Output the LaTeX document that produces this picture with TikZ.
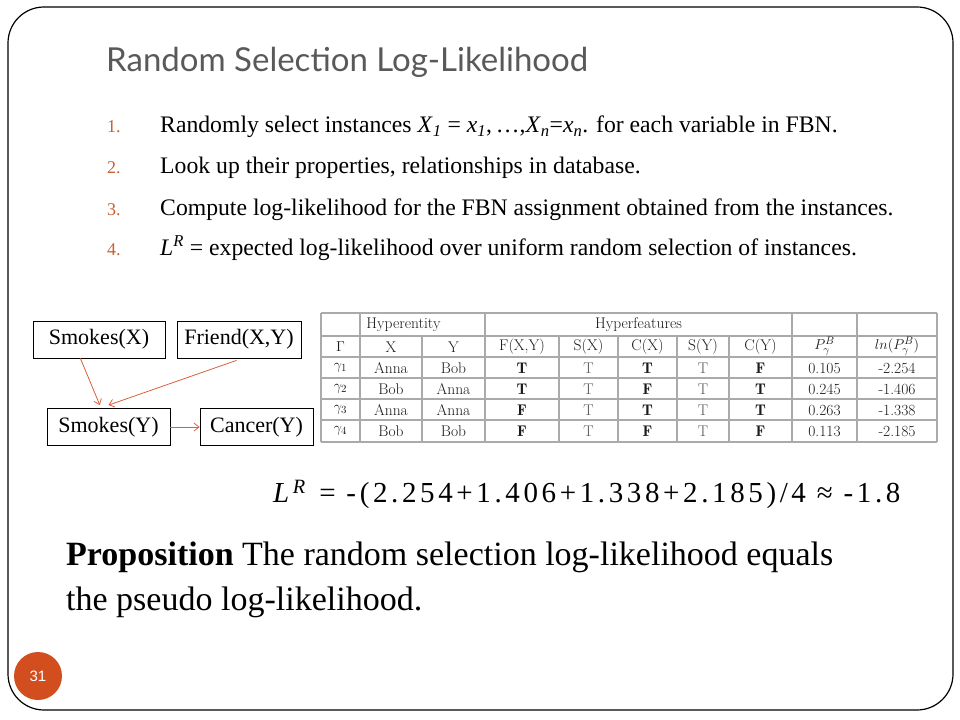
\documentclass[tikz,border=0pt]{standalone}
\usepackage{fontspec}
\setmainfont{Liberation Serif}
\newfontfamily\titlefont{Lato}
\newfontfamily\numfont{Liberation Sans}
\usetikzlibrary{arrows.meta,calc}
\definecolor{titlegray}{HTML}{595959}
\definecolor{numc}{HTML}{C8602F}
\definecolor{arrowc}{HTML}{D9603B}
\definecolor{circc}{HTML}{D24E1E}
\definecolor{tgray}{HTML}{AAAAAA}
\definecolor{ttext}{HTML}{1A1A1A}
\definecolor{tlight}{HTML}{5A5A5A}
\begin{document}
\begin{tikzpicture}[x=1bp,y=-1bp,
  box/.style={draw, line width=0.8bp, minimum height=37bp, inner sep=0pt, font=\fontsize{22bp}{26bp}\selectfont},
  arr/.style={draw=arrowc, line width=0.8bp, -{Straight Barb[length=5bp,width=8bp]}},
  itemnum/.style={anchor=base west, text=numc, font=\fontsize{18bp}{21bp}\selectfont, inner sep=0pt},
  itemtxt/.style={anchor=base west, font=\fontsize{23.7bp}{27bp}\selectfont, inner sep=0pt},
  tline/.style={draw=tgray, line width=1.1bp},
  tcell/.style={inner sep=0pt, text=ttext, font=\fontfamily{lmr}\fontsize{15.5bp}{17bp}\selectfont},
  tlt/.style={tcell, text=tlight},
  tbf/.style={tcell, font=\fontfamily{lmr}\bfseries\fontsize{15.5bp}{17bp}\selectfont}]
\useasboundingbox (0,0) rectangle (960,720);
% slide frame
\draw[line width=1.2bp, rounded corners=36bp] (8,7) rectangle (953,710);
% title
\node[anchor=west, inner sep=0pt, text=titlegray, font=\titlefont\fontsize{33bp}{38bp}\selectfont] (title) at (106,62) {Random Selection Log-Likelihood};
% list
\node[itemnum] (n1) at (107,133) {1.};
\node[itemnum] (n2) at (107,174) {2.};
\node[itemnum] (n3) at (107,215) {3.};
\node[itemnum] (n4) at (107,255) {4.};
\node[itemtxt] (t1) at (160,133) {Randomly select instances \textit{X}\textsubscript{\textit{1}} = \textit{x}\textsubscript{\textit{1}},\,\ldots,\textit{X}\textsubscript{\textit{n}}=\textit{x}\textsubscript{\textit{n}}. for each variable in FBN.};
\node[itemtxt] (t2) at (160,174) {Look up their properties, relationships in database.};
\node[itemtxt] (t3) at (160,215) {Compute log-likelihood for the FBN assignment obtained from the instances.};
\node[itemtxt] (t4) at (160,255) {\textit{L}\textsuperscript{\textit{R}} = expected log-likelihood over uniform random selection of instances.};
% graph
\node[box, minimum width=132bp] (sx) at (99,339.5) {Smokes(X)};
\node[box, minimum width=124bp] (fr) at (239,339.5) {Friend(X,Y)};
\node[box, minimum width=123bp] (sy) at (108.5,427) {Smokes(Y)};
\node[box, minimum width=113bp] (cy) at (256.5,427) {Cancer(Y)};
\draw[arr] ($(sx.south west)!0.36!(sx.south east)$) -- ($(sy.north west)!0.43!(sy.north east)+(0,-3)$);
\draw[arr] ($(fr.south west)!0.48!(fr.south east)+(0,2)$) -- ($(sy.north west)!0.5!(sy.north east)+(0,-3)$);
\draw[arr] (sy.east) -- (cy.west);
% table
\foreach \y in {313,336,357,378,399,420,442} \draw[tline] (321,\y) -- (937,\y);
\foreach \x in {321,360,485,792,857,937} \draw[tline] (\x,313) -- (\x,442);
\foreach \x in {422,559,618,677,729} \draw[tline] (\x,336) -- (\x,442);
\node[tcell] (hent) at (403.5,325) {Hyperentity};
\node[tcell] (hfeat) at (638.5,325) {Hyperfeatures};
\node[tcell] (hg) at (340.5,347) {$\Gamma$};
\node[tcell] (hx) at (391,347) {X};
\node[tcell] (hy) at (453.5,347) {Y};
\node[tcell] (hf) at (522,347) {F(X,Y)};
\node[tcell] (hsx) at (588.5,347) {S(X)};
\node[tcell] (hcx) at (647.5,347) {C(X)};
\node[tcell] (hsy) at (703,347) {S(Y)};
\node[tcell] (hcy) at (760.5,347) {C(Y)};
\node[tcell] (hp) at (824.5,346.5) {$P^{B}_{\gamma}$};
\node[tcell] (hl) at (897,346.5) {$ln(P^{B}_{\gamma})$};
\foreach \n/\y/\a/\b/\f/\sx/\cx/\sy/\cy/\p/\l in {
  1/368/Anna/Bob/T/T/T/T/F/0.105/-2.254,
  2/389/Bob/Anna/T/T/F/T/T/0.245/-1.406,
  3/410/Anna/Anna/F/T/T/T/T/0.263/-1.338,
  4/431/Bob/Bob/F/T/F/T/F/0.113/-2.185}{
  \node[tcell] (g\n) at (340.5,\y) {$\gamma_{\n}$};
  \node[tcell] (a\n) at (391,\y) {\a};
  \node[tcell] (b\n) at (453.5,\y) {\b};
  \node[tbf] (f\n) at (522,\y) {\f};
  \node[tlt] (sx\n) at (588.5,\y) {\sx};
  \node[tbf] (cx\n) at (647.5,\y) {\cx};
  \node[tlt] (sy\n) at (703,\y) {\sy};
  \node[tbf] (cy\n) at (760.5,\y) {\cy};
  \node[tcell] (p\n) at (824.5,\y) {\p};
  \node[tcell] (l\n) at (897,\y) {\l};
}
% formula
\node[anchor=base west, inner sep=0pt, font=\fontsize{29bp}{34bp}\selectfont\addfontfeatures{LetterSpace=12.5}] (lr) at (273,502) {\textit{L}\textsuperscript{\textit{R}} = -(2.254+1.406+1.338+2.185)/4 ≈ -1.8};
% proposition
\node[anchor=base west, inner sep=0pt, font=\fontsize{34bp}{38bp}\selectfont] (prop1) at (66,565) {\textbf{Proposition} The random selection log-likelihood equals};
\node[anchor=base west, inner sep=0pt, font=\fontsize{34bp}{38bp}\selectfont] (prop2) at (66,610) {the pseudo log-likelihood.};
% page number
\node[circle, fill=circc, minimum size=48bp, inner sep=0pt, text=white, font=\numfont\fontsize{15bp}{18bp}\selectfont] (pg) at (38,676) {31};
\end{tikzpicture}
\end{document}
